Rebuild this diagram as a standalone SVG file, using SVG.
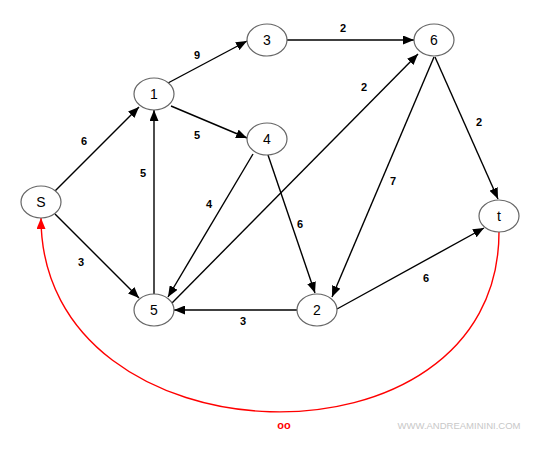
<svg xmlns="http://www.w3.org/2000/svg" width="541" height="457" viewBox="0 0 541 457">
<style>
.node ellipse{fill:#fff;stroke:#666;stroke-width:1.2}
.node text{font-family:"Liberation Sans",Arial,sans-serif;font-size:14px;fill:#000;text-anchor:middle}
.edge{stroke:#000;stroke-width:1.4;fill:none;marker-end:url(#arr)}
.lbl{font-family:"Liberation Sans",Arial,sans-serif;font-size:11px;font-weight:bold;fill:#000;text-anchor:middle}
</style>
<defs>
<marker id="arr" markerUnits="userSpaceOnUse" markerWidth="11" markerHeight="9" refX="11" refY="4.5" orient="auto"><path d="M0,0 L11,4.5 L0,9 z" fill="#000"/></marker>
<marker id="arrR" markerUnits="userSpaceOnUse" markerWidth="11" markerHeight="9" refX="11" refY="4.5" orient="auto"><path d="M0,0 L11,4.5 L0,9 z" fill="#f00"/></marker>
</defs>
<rect width="541" height="457" fill="#fff"/>
<g id="connectors">
<line class="edge" x1="55" y1="191" x2="139" y2="107"/>
<line class="edge" x1="55" y1="214" x2="139" y2="298"/>
<line class="edge" x1="168" y1="83" x2="247" y2="41"/>
<line class="edge" x1="171" y1="106" x2="247" y2="138"/>
<line class="edge" x1="287" y1="40" x2="414" y2="40"/>
<line class="edge" x1="154" y1="294" x2="154" y2="110"/>
<line class="edge" x1="253" y1="154" x2="168" y2="297"/>
<line class="edge" x1="268" y1="155" x2="315" y2="293"/>
<line class="edge" x1="172" y1="303" x2="418" y2="54"/>
<line class="edge" x1="434" y1="57" x2="332" y2="297"/>
<line class="edge" x1="435" y1="57" x2="498" y2="199"/>
<line class="edge" x1="337" y1="309" x2="484" y2="228"/>
<line class="edge" x1="297" y1="310" x2="174" y2="310"/>
<path d="M499,232 C499,481 41,467 41,218" stroke="#f00" stroke-width="1.4" fill="none" marker-end="url(#arrR)"/>
<text class="lbl" x="197" y="59">9</text>
<text class="lbl" x="84" y="145">6</text>
<text class="lbl" x="197" y="139">5</text>
<text class="lbl" x="143" y="177">5</text>
<text class="lbl" x="209" y="208">4</text>
<text class="lbl" x="343" y="32">2</text>
<text class="lbl" x="364" y="91">2</text>
<text class="lbl" x="479" y="126">2</text>
<text class="lbl" x="393" y="185">7</text>
<text class="lbl" x="300" y="228">6</text>
<text class="lbl" x="81" y="266">3</text>
<text class="lbl" x="243" y="325">3</text>
<text class="lbl" x="426" y="282">6</text>
<text class="lbl" x="284" y="429" style="fill:#f00">oo</text>
</g>
<g id="node-S" class="node"><ellipse cx="41" cy="202" rx="20" ry="16"/><text x="41" y="207">S</text></g>
<g id="node-1" class="node"><ellipse cx="154" cy="94" rx="20" ry="16"/><text x="154" y="99">1</text></g>
<g id="node-3" class="node"><ellipse cx="267" cy="40" rx="20" ry="16"/><text x="267" y="45">3</text></g>
<g id="node-6" class="node"><ellipse cx="434" cy="40" rx="20" ry="16"/><text x="434" y="45">6</text></g>
<g id="node-4" class="node"><ellipse cx="267" cy="139" rx="20" ry="16"/><text x="267" y="144">4</text></g>
<g id="node-t" class="node"><ellipse cx="499" cy="216" rx="20" ry="16"/><text x="499" y="221">t</text></g>
<g id="node-5" class="node"><ellipse cx="154" cy="310" rx="20" ry="16"/><text x="154" y="315">5</text></g>
<g id="node-2" class="node"><ellipse cx="317" cy="310" rx="20" ry="16"/><text x="317" y="315">2</text></g>
<text x="459" y="429" font-family="'Liberation Sans',Arial,sans-serif" font-size="9.5" fill="#c8c8c8" text-anchor="middle">WWW.ANDREAMININI.COM</text>
</svg>
